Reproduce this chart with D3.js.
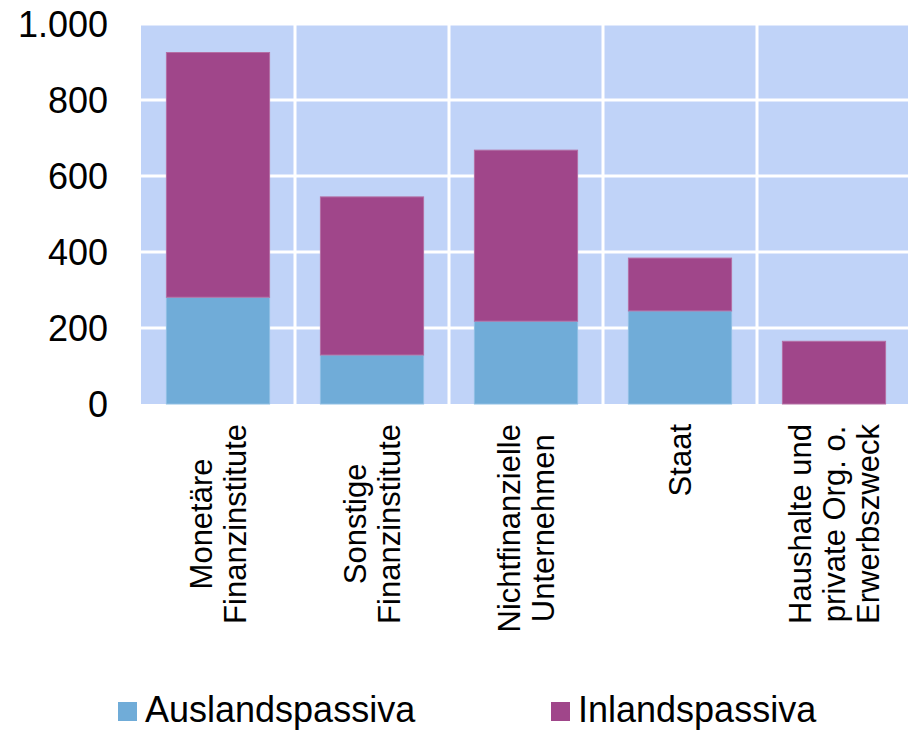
<!DOCTYPE html>
<html>
<head>
<meta charset="utf-8">
<script src="https://cdn.jsdelivr.net/npm/d3@7.9.0/dist/d3.min.js"></script>
<style>
  body { margin: 0; background: #fff; }
  svg { display: block; font-family: "Liberation Sans", Arial, sans-serif; }
</style>
</head>
<body>
<svg id="chart" width="908" height="730"></svg>
<script>
const categories = [
  ['Monetäre', 'Finanzinstitute'],
  ['Sonstige', 'Finanzinstitute'],
  ['Nichtfinanzielle', 'Unternehmen'],
  ['Staat'],
  ['Haushalte und', 'private Org. o.', 'Erwerbszweck']
];
const auslandspassiva = [281, 129, 218, 245, 0];
const inlandspassiva = [644, 416, 450, 139, 165];
const seriesNames = ['Auslandspassiva', 'Inlandspassiva'];
const yTicks = [0, 200, 400, 600, 800, 1000];

const colors = { Auslandspassiva: '#70acd8', Inlandspassiva: '#a0468a' };
const strokes = { Auslandspassiva: '#8fbfe4', Inlandspassiva: '#b46fa4' };

const svg = d3.select('#chart');
const plotLeft = 141, plotRight = 911, plotTop = 24, plotBottom = 404;

const de = d3.formatLocale({ decimal: ',', thousands: '.', grouping: [3], currency: ['', ' €'] });
const fmt = de.format(',d');

let x = d3.scaleBand()
  .domain(d3.range(categories.length))
  .range([plotLeft, plotRight])
  .paddingInner(0.33)
  .paddingOuter(0.165);

let y = d3.scaleLinear().domain([0, 1000]).range([plotBottom, plotTop]);

// plot background
svg.append('rect')
  .attr('x', plotLeft).attr('y', plotTop)
  .attr('width', plotRight - plotLeft).attr('height', plotBottom - plotTop)
  .attr('fill', '#c0d3f8');

// grid
svg.append('g')
  .selectAll('line')
  .data(yTicks.slice(1))
  .join('line')
  .attr('x1', plotLeft).attr('x2', plotRight)
  .attr('y1', d => y(d)).attr('y2', d => y(d))
  .attr('stroke', '#fff').attr('stroke-width', 3);

svg.append('g')
  .selectAll('line')
  .data(d3.range(1, categories.length))
  .join('line')
  .attr('x1', i => x(i) - x.step() * x.paddingInner() / 2)
  .attr('x2', i => x(i) - x.step() * x.paddingInner() / 2)
  .attr('y1', plotTop).attr('y2', plotBottom)
  .attr('stroke', '#fff').attr('stroke-width', 3);

// stacked bars
let rows = categories.map((c, i) => ({
  i: i,
  Auslandspassiva: auslandspassiva[i],
  Inlandspassiva: inlandspassiva[i]
}));
let stacked = d3.stack().keys(seriesNames)(rows);

stacked.forEach(layer => {
  svg.append('g')
    .selectAll('rect')
    .data(layer.filter(d => d[1] - d[0] > 0))
    .join('rect')
    .attr('x', d => x(d.data.i))
    .attr('width', x.bandwidth())
    .attr('y', d => y(d[1]))
    .attr('height', d => y(d[0]) - y(d[1]))
    .attr('fill', colors[layer.key])
    .attr('stroke', strokes[layer.key])
    .attr('stroke-width', 1);
});

// y axis labels
svg.append('g')
  .selectAll('text')
  .data(yTicks)
  .join('text')
  .attr('x', 108)
  .attr('y', d => y(d))
  .attr('dy', '0.35em')
  .attr('text-anchor', 'end')
  .attr('font-size', 36)
  .attr('fill', '#000')
  .text(d => fmt(d));

// category labels, rotated, block top-aligned, lines centred
const lineH = 34;
const labelTop = 424;
categories.forEach((lines, i) => {
  let cx = x(i) + x.bandwidth() / 2;
  let g = svg.append('g');
  let texts = g.selectAll('text')
    .data(lines)
    .join('text')
    .attr('font-size', 31)
    .attr('text-anchor', 'middle')
    .attr('fill', '#000')
    .text(d => d);
  let maxLen = d3.max(texts.nodes(), n => n.getComputedTextLength());
  let n = lines.length;
  texts.attr('transform', (d, j) => {
    let bx = cx - (n - 1) * lineH / 2 + j * lineH + 11;
    return `translate(${bx},${labelTop + maxLen / 2}) rotate(-90)`;
  });
});

// legend
const legendPos = [118, 551];
seriesNames.forEach((name, i) => {
  let g = svg.append('g').attr('transform', `translate(${legendPos[i]},0)`);
  g.append('rect')
    .attr('x', 0).attr('y', 702)
    .attr('width', 19).attr('height', 19)
    .attr('fill', colors[name]);
  g.append('text')
    .attr('x', 27).attr('y', 722)
    .attr('font-size', 36)
    .attr('fill', '#000')
    .text(name);
});
</script>
</body>
</html>
